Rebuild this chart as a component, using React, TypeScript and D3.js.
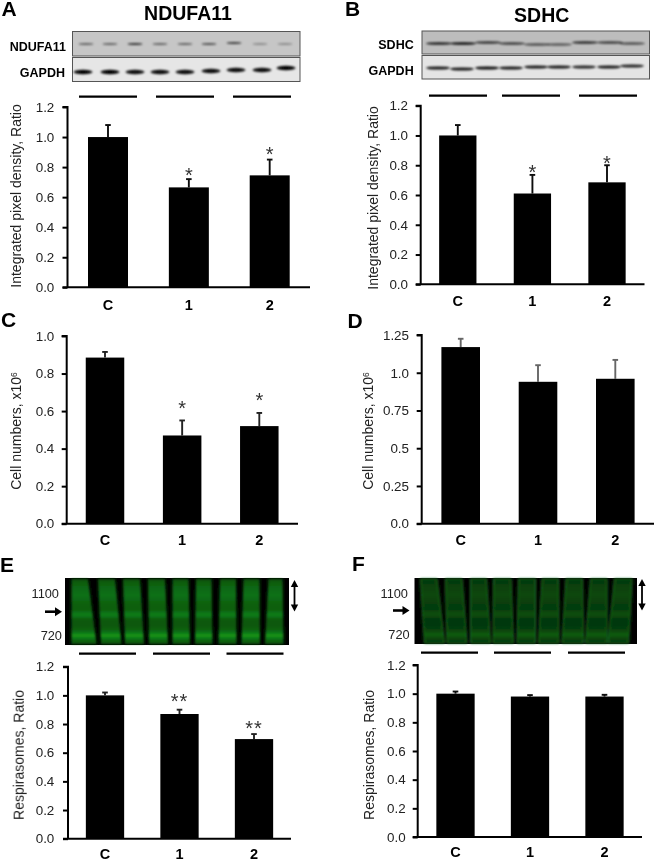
import React, { useEffect, useRef } from "react";
import * as d3 from "d3";

const FONT = "'Liberation Sans', Arial, sans-serif";
const groups = ["C", "1", "2"];

// Panel values
const ratioTicks = [0, 0.2, 0.4, 0.6, 0.8, 1.0, 1.2];
const cellTicksC = [0, 0.2, 0.4, 0.6, 0.8, 1.0];
const cellTicksD = [0, 0.25, 0.5, 0.75, 1.0, 1.25];
const cellTickLabelsD = ["0.0", "0.25", "0.5", "0.75", "1.0", "1.25"];

const valuesA = [1.0, 0.665, 0.745];
const errorsA = [0.08, 0.055, 0.105];
const starsA = ["", "*", "*"];
const valuesB = [1.0, 0.61, 0.685];
const errorsB = [0.07, 0.125, 0.115];
const starsB = ["", "*", "*"];
const valuesC = [0.885, 0.47, 0.52];
const errorsC = [0.03, 0.08, 0.07];
const starsC = ["", "*", "*"];
const valuesD = [1.17, 0.94, 0.96];
const errorsD = [0.055, 0.11, 0.125];
const starsD = ["", "", ""];
const valuesE = [1.0, 0.87, 0.695];
const errorsE = [0.02, 0.03, 0.035];
const starsE = ["", "**", "**"];
const valuesF = [1.0, 0.98, 0.98];
const errorsF = [0.015, 0.01, 0.012];
const starsF = ["", "", ""];

// Western-blot band strengths (darkness 0..1) for the nine lanes
const bandsNdufa11 = [0.5, 0.5, 0.75, 0.5, 0.5, 0.6, 0.7, 0.3, 0.3];
const bandsGapdhA = [1, 1, 0.95, 0.95, 0.95, 0.95, 0.95, 0.95, 1];
const bandsSdhc = [0.85, 0.95, 0.75, 0.7, 0.6, 0.55, 0.8, 0.7, 0.6];
const bandsGapdhB = [0.9, 0.9, 0.95, 0.9, 0.9, 0.9, 0.85, 0.9, 0.85];

// Blue-native gel lanes: [top-left, top-right, bottom-left, bottom-right] x
const lanesE = [
  [71.5, 88, 71.5, 96.5], [98, 115, 101, 121.5], [123, 140, 125, 144],
  [148, 165, 149, 168], [172.5, 188.5, 172.5, 190], [196, 211.5, 195, 212.5],
  [220, 236, 218.5, 236.5], [243.5, 259.5, 241.5, 260], [268.5, 282.5, 265, 283.5],
];
const lanesF = [
  [420.5, 437, 424.5, 444.5], [445.5, 462, 447, 467], [470.5, 486.5, 470.5, 490.5],
  [493.5, 511, 493, 513.5], [518.5, 535.5, 517, 535.5], [542, 558.5, 538.5, 559],
  [566, 582.5, 562, 583.5], [590.5, 607, 585.5, 607], [614.5, 632, 608, 628.5],
];
// Gel density along the lane height: [offset, brightness]
const gelProfile = [
  [0, 0.55], [0.12, 0.68], [0.25, 0.75], [0.36, 0.66], [0.47, 0.62], [0.55, 0.85],
  [0.62, 0.6], [0.72, 0.58], [0.8, 0.68], [0.87, 1], [0.93, 0.7], [1, 0.55],
];

type Panel = {
  letter: string; lx: number; ly: number;
  axisX: number; yTop: number; yZero: number; xEnd: number;
  first: number; last: number; barW: number;
  max: number; ticks: number[]; tickLabels?: string[];
  values: number[]; errors: number[]; stars: string[]; starY: number[];
  errColor: string; labelY: number; title: string; sup?: string;
  titleX: number; titleY: number; tickRight: number;
};

const panels: Panel[] = [
  { letter: "A", lx: 1.5, ly: 15.5, axisX: 67.5, yTop: 107, yZero: 287.3, xEnd: 310, first: 108, last: 269.7, barW: 40,
    max: 1.2, ticks: ratioTicks, values: valuesA, errors: errorsA, stars: starsA, starY: [0, 170, 149],
    errColor: "#111", labelY: 306, title: "Integrated pixel density, Ratio", titleX: 17, titleY: 196, tickRight: 54.3 },
  { letter: "B", lx: 345, ly: 15.5, axisX: 420.7, yTop: 105.7, yZero: 284.3, xEnd: 644.5, first: 457.8, last: 607, barW: 37.3,
    max: 1.2, ticks: ratioTicks, values: valuesB, errors: errorsB, stars: starsB, starY: [0, 167, 158],
    errColor: "#111", labelY: 302, title: "Integrated pixel density, Ratio", titleX: 373.5, titleY: 198, tickRight: 408 },
  { letter: "C", lx: 1, ly: 327, axisX: 66.7, yTop: 336, yZero: 523.7, xEnd: 298, first: 105, last: 259.3, barW: 38.5,
    max: 1.0, ticks: cellTicksC, values: valuesC, errors: errorsC, stars: starsC, starY: [0, 403.5, 395.5],
    errColor: "#222", labelY: 541.5, title: "Cell numbers, x10", sup: "6", titleX: 17, titleY: 431, tickRight: 54.3 },
  { letter: "D", lx: 347.5, ly: 328, axisX: 421.7, yTop: 335, yZero: 523.7, xEnd: 654, first: 460.7, last: 615.3, barW: 38.6,
    max: 1.25, ticks: cellTicksD, tickLabels: cellTickLabelsD, values: valuesD, errors: errorsD, stars: starsD, starY: [0, 0, 0],
    errColor: "#666", labelY: 541.5, title: "Cell numbers, x10", sup: "6", titleX: 369, titleY: 431, tickRight: 409 },
  { letter: "E", lx: 0, ly: 572, axisX: 68, yTop: 666.7, yZero: 838.7, xEnd: 291, first: 105, last: 254, barW: 38.3,
    max: 1.2, ticks: ratioTicks, values: valuesE, errors: errorsE, stars: starsE, starY: [0, 696, 723],
    errColor: "#222", labelY: 855.5, title: "Respirasomes, Ratio", titleX: 19.5, titleY: 755, tickRight: 54.3 },
  { letter: "F", lx: 352, ly: 571, axisX: 417.7, yTop: 665, yZero: 837, xEnd: 642, first: 455.5, last: 604.5, barW: 38.3,
    max: 1.2, ticks: ratioTicks, values: valuesF, errors: errorsF, stars: starsF, starY: [0, 0, 0],
    errColor: "#111", labelY: 853.5, title: "Respirasomes, Ratio", titleX: 370, titleY: 755, tickRight: 405.7 },
];

const groupLines = [
  { y: 96.7, spans: [[79, 137], [156, 214], [233, 291]] },
  { y: 95.7, spans: [[429, 487], [502, 560], [579, 637]] },
  { y: 653.7, spans: [[79, 136], [153, 210], [226.5, 283.5]] },
  { y: 652.7, spans: [[421, 478], [494, 551], [568, 625]] },
];

function BarPanel({ p }: { p: Panel }) {
  const axisRef = useRef<SVGGElement | null>(null);
  const x = d3.scalePoint<string>().domain(groups).range([p.first, p.last]);
  const y = d3.scaleLinear().domain([0, p.max]).range([p.yZero, p.yTop]);

  useEffect(() => {
    const g = d3.select(axisRef.current as SVGGElement);
    const labels = p.tickLabels ?? p.ticks.map((t) => t.toFixed(1));
    g.call(
      d3.axisLeft(y).tickValues(p.ticks).tickSize(5).tickPadding(8)
        .tickFormat((_, i) => labels[i]) as any
    );
    g.select(".domain").attr("stroke", "#000").attr("stroke-width", 2)
      .attr("d", `M-5,${p.yTop}H0V${p.yZero}`).attr("fill", "none");
    g.selectAll(".tick line").attr("stroke", "#000").attr("stroke-width", 2);
    g.selectAll(".tick text").attr("font-size", 13.4).attr("font-family", FONT).attr("fill", "#222")
      .attr("x", p.tickRight - p.axisX).attr("text-anchor", "end");
    g.attr("font-family", FONT);
  }, []);

  return (
    <g>
      <text x={p.lx} y={p.ly} fontFamily={FONT} fontWeight="bold" fontSize={21} fill="#000">{p.letter}</text>
      <text
        transform={`translate(${p.titleX + 4.2},${p.titleY}) rotate(-90)`}
        textAnchor="middle" fontFamily={FONT} fontSize={14} fill="#222"
      >
        {p.title}
        {p.sup ? <tspan dy={-4} fontSize={8.5}>{p.sup}</tspan> : null}
      </text>
      {groups.map((g, i) => {
        const cx = x(g) as number;
        const top = y(p.values[i]);
        const errTop = y(p.values[i] + p.errors[i]);
        return (
          <g key={g}>
            <line x1={cx} x2={cx} y1={top} y2={errTop} stroke={p.errColor} strokeWidth={1.9} />
            <line x1={cx - 2.8} x2={cx + 2.8} y1={errTop} y2={errTop} stroke={p.errColor} strokeWidth={1.9} />
            <rect x={cx - p.barW / 2} y={top} width={p.barW} height={p.yZero - top} fill="#000" />
            {p.stars[i] ? (
              <text x={cx} y={p.starY[i] + 11.5} textAnchor="middle" fontFamily={FONT} fontSize={20} fill="#333"
                letterSpacing={p.stars[i].length > 1 ? 1 : 0}>{p.stars[i]}</text>
            ) : null}
            <text x={cx} y={p.labelY} textAnchor="middle" fontFamily={FONT} fontWeight="bold" fontSize={14.5} fill="#000"
              dominantBaseline="middle">{g}</text>
          </g>
        );
      })}
      <g ref={axisRef} transform={`translate(${p.axisX},0)`} />
      <line x1={p.axisX - 5} x2={p.xEnd} y1={p.yZero} y2={p.yZero} stroke="#000" strokeWidth={2} />
    </g>
  );
}

function Blot({ x0, x1, y0, y1, bg, bands, lanes, by, bandW, thick, tilt }: {
  x0: number; x1: number; y0: number; y1: number; bg: string; bands: number[]; lanes: number[];
  by: number; bandW: number; thick: number; tilt: number[];
}) {
  return (
    <g>
      <rect x={x0} y={y0} width={x1 - x0} height={y1 - y0} fill={bg} stroke="#555" strokeWidth={1} />
      <g filter="url(#soft)">
        {bands.map((b, i) => (
          <ellipse key={i} cx={lanes[i]} cy={by + tilt[i]} rx={bandW / 2} ry={thick / 2}
            fill="#000" opacity={b} />
        ))}
      </g>
    </g>
  );
}

const lanesA1 = [86, 110, 135, 160, 185, 209, 234, 260, 285];
const lanesA2 = [83, 110, 135, 160, 185, 211, 236, 262, 286];
const lanesB1 = [439, 463, 488, 512, 537, 559, 585, 610, 632];
const lanesB2 = [438, 462, 487, 511, 536, 559, 584, 609, 632];
const tiltA1 = [0, 0, 0, 0, 0, 0, -1, 0, 0];
const tiltA2 = [0, 0, 0, 0, 0, -1, -2, -2, -4];
const tiltB1 = [0, 0, -1, 0, 1, 1, -1, -1, 0];
const tiltB2 = [0, 1, 0, 0, -1, -1, -1, -1, -2];

function Gel({ x0, x1, lanes, id, y0, y1, edge }: { x0: number; x1: number; lanes: number[][]; id: string; y0: number; y1: number; edge?: string }) {
  const path = d3.line();
  return (
    <g>
      <rect x={x0} y={y0} width={x1 - x0} height={y1 - y0} fill="#040604" />
      <g filter="url(#softGel)">
        {lanes.map((l, i) => (
          <path key={i} fill={`url(#${id})`} stroke={edge ?? "none"} strokeWidth={edge ? 1 : 0}
            d={path([[l[0], y0 + 1], [l[1], y0 + 1], [l[3], y1 - 1], [l[2], y1 - 1]]) + "Z"} />
        ))}
      </g>
    </g>
  );
}

function DoubleArrow({ x, y1, y2 }: { x: number; y1: number; y2: number }) {
  return (
    <g fill="#000">
      <line x1={x} x2={x} y1={y1 + 3} y2={y2 - 3} stroke="#000" strokeWidth={1.8} />
      <path d={`M${x},${y1}L${x + 3.7},${y1 + 7}H${x - 3.7}Z`} />
      <path d={`M${x},${y2}L${x + 3.7},${y2 - 7}H${x - 3.7}Z`} />
    </g>
  );
}

function SideArrow({ x1, x2, y }: { x1: number; x2: number; y: number }) {
  return (
    <g fill="#000">
      <line x1={x1} x2={x2 - 5} y1={y} y2={y} stroke="#000" strokeWidth={2.6} />
      <path d={`M${x2},${y}L${x2 - 7},${y - 4.5}V${y + 4.5}Z`} />
    </g>
  );
}

export default function App() {
  const bold = { fontFamily: FONT, fontWeight: "bold" as const, fill: "#000" };
  const reg = { fontFamily: FONT, fill: "#222", fontSize: 12.8 };
  return (
    <svg width={654} height={861} viewBox="0 0 654 861"
      style={{ position: "fixed", left: 0, top: 0, background: "#fff" }}>
      <defs>
        <filter id="soft" x="-10%" y="-50%" width="120%" height="200%"><feGaussianBlur stdDeviation="0.8" /></filter>
        <filter id="softGel" x="-5%" y="-5%" width="110%" height="110%"><feGaussianBlur stdDeviation="1" /></filter>
        <filter id="jpeg" x="0" y="0" width="100%" height="100%"><feGaussianBlur stdDeviation="0.35" /></filter>
        <linearGradient id="gelE" x1="0" y1="0" x2="0" y2="1">
          {gelProfile.map(([o, b]) => (
            <stop key={o} offset={o} stopColor={d3.rgb(20 * b, 150 * b, 26 * b).formatRgb()} />
          ))}
        </linearGradient>
        <linearGradient id="gelF" x1="0" y1="0" x2="0" y2="1">
          {gelProfile.map(([o, b]) => (
            <stop key={o} offset={o} stopColor={d3.rgb(10 * b, 95 * b, 18 * b).formatRgb()} />
          ))}
        </linearGradient>
      </defs>

      <g filter="url(#jpeg)">
        <text x={188} y={20} textAnchor="middle" fontSize={19.5} {...bold}>NDUFA11</text>
        <text x={541.7} y={21.5} textAnchor="middle" fontSize={19.5} {...bold}>SDHC</text>

        <text x={66} y={50.5} textAnchor="end" fontSize={12.5} {...bold}>NDUFA11</text>
        <text x={65} y={76.7} textAnchor="end" fontSize={12.5} {...bold}>GAPDH</text>
        <text x={413.7} y={48.7} textAnchor="end" fontSize={12.5} {...bold}>SDHC</text>
        <text x={413.7} y={75.4} textAnchor="end" fontSize={12.5} {...bold}>GAPDH</text>

        <Blot x0={72.5} x1={300} y0={31.5} y1={56} bg="#c6c6c6" bands={bandsNdufa11} lanes={lanesA1} by={44} bandW={15} thick={2.2} tilt={tiltA1} />
        <Blot x0={72.5} x1={300} y0={57.5} y1={81.5} bg="#e6e6e6" bands={bandsGapdhA} lanes={lanesA2} by={72} bandW={19} thick={4.4} tilt={tiltA2} />
        <Blot x0={422} y0={31} x1={649.5} y1={54} bg="#bdbdbd" bands={bandsSdhc} lanes={lanesB1} by={43.5} bandW={26} thick={2.6} tilt={tiltB1} />
        <Blot x0={422} y0={55.5} x1={649.5} y1={79} bg="#e4e4e4" bands={bandsGapdhB} lanes={lanesB2} by={68} bandW={24} thick={3.2} tilt={tiltB2} />

        <Gel x0={65} x1={289} y0={578} y1={645} lanes={lanesE} id="gelE" />
        <Gel x0={414.5} x1={637} y0={578} y1={644} lanes={lanesF} id="gelF" edge="#1a6e20" />

        <text x={59} y={598} textAnchor="end" {...reg}>1100</text>
        <text x={62} y={640} textAnchor="end" {...reg}>720</text>
        <text x={408} y={597.5} textAnchor="end" {...reg}>1100</text>
        <text x={409.7} y={638.5} textAnchor="end" {...reg}>720</text>

        <SideArrow x1={45} x2={62} y={611.7} />
        <SideArrow x1={393} x2={409.5} y={610.5} />
        <DoubleArrow x={294.5} y1={580} y2={611.5} />
        <DoubleArrow x={642} y1={579} y2={610.5} />

        {groupLines.map((gl, i) =>
          gl.spans.map(([a, b], j) => (
            <line key={`${i}-${j}`} x1={a} x2={b} y1={gl.y} y2={gl.y} stroke="#000" strokeWidth={2.3} />
          ))
        )}

        {panels.map((p) => <BarPanel key={p.letter} p={p} />)}
      </g>
    </svg>
  );
}
